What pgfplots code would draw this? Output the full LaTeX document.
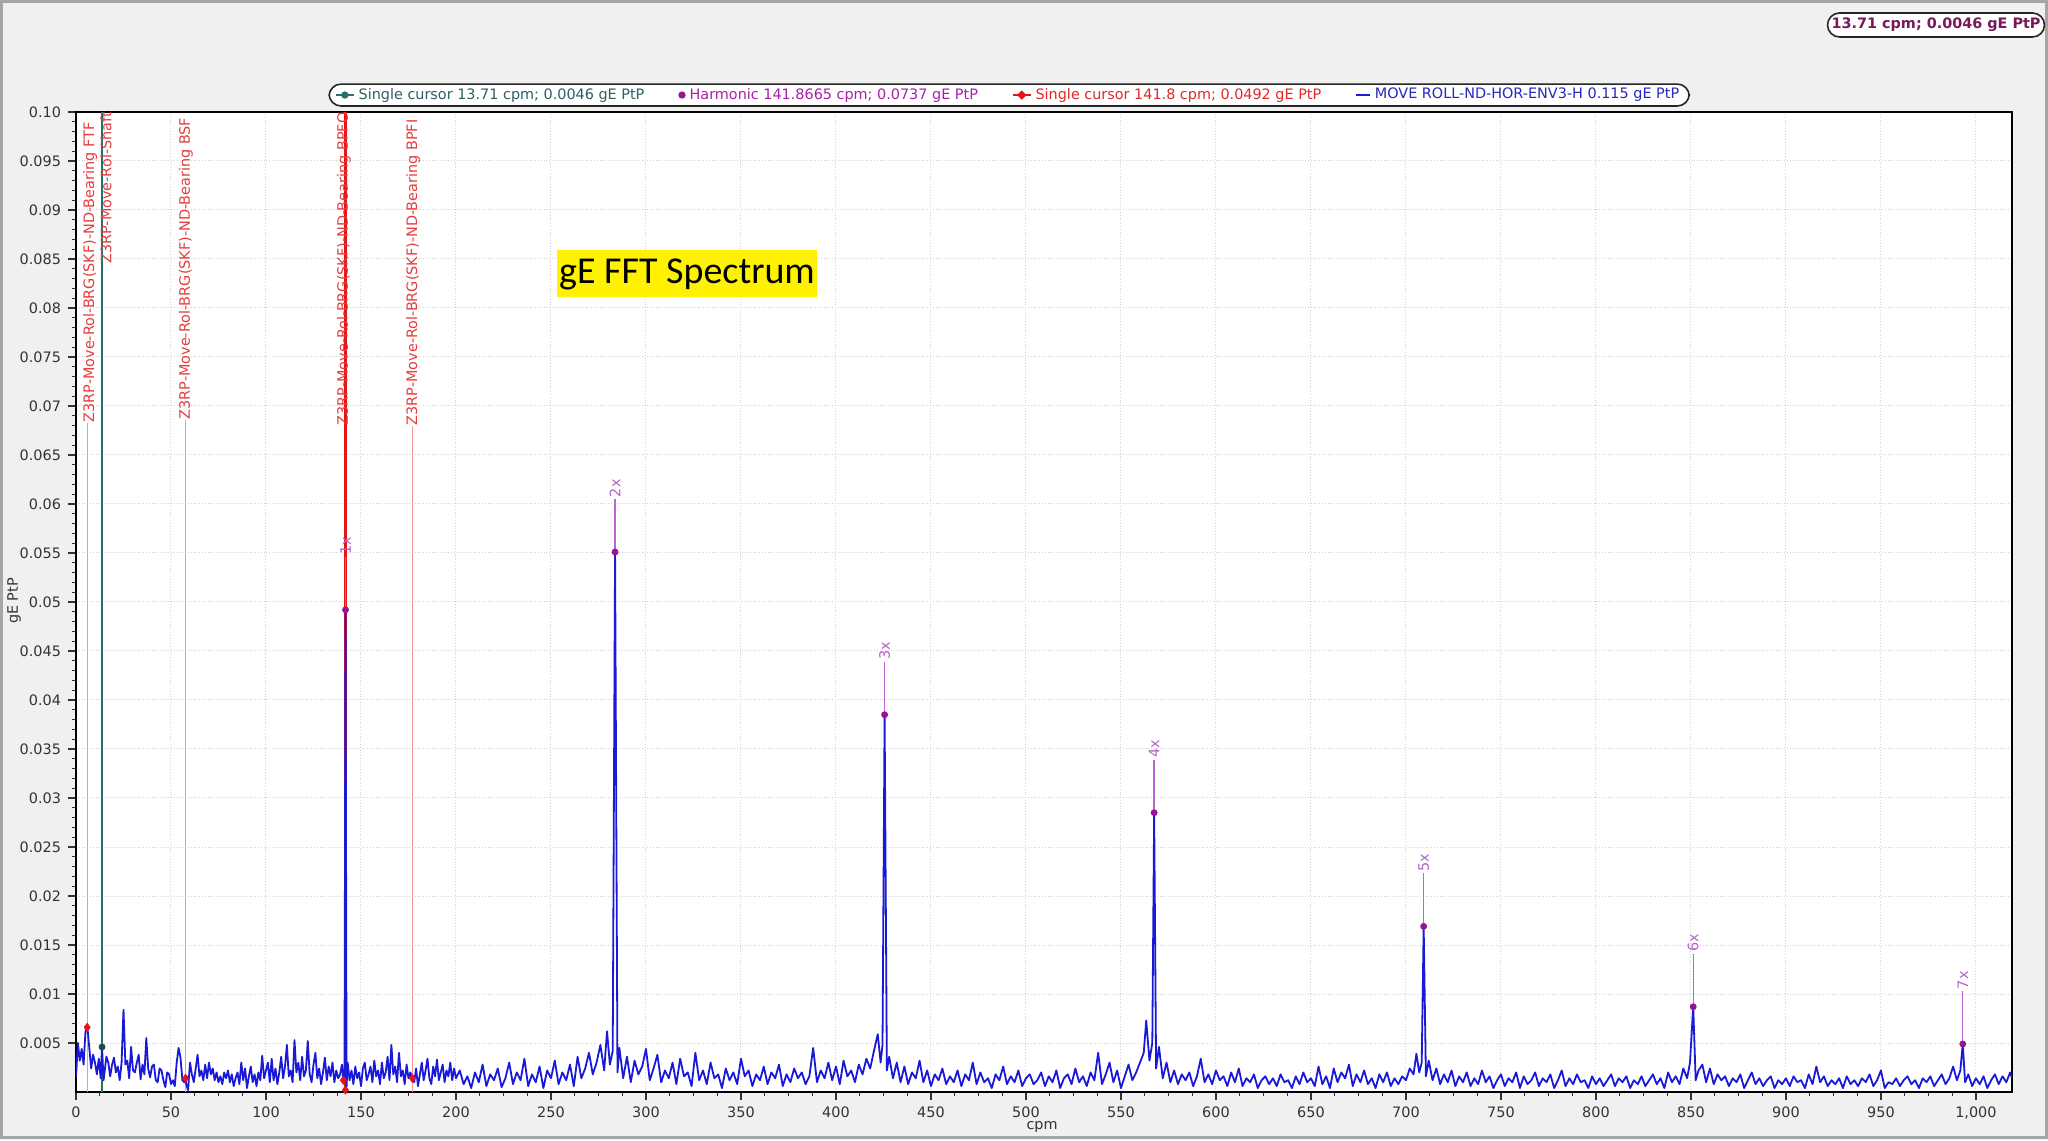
\documentclass[border=0pt]{standalone}
\usepackage{pgfplots}
\pgfplotsset{compat=1.18}
\usepackage{fontspec}
\setmainfont{DejaVu Sans}
\newfontfamily\carlito{Carlito}

\definecolor{specblue}{RGB}{25,25,215}
\definecolor{shaftteal}{RGB}{40,110,110}
\definecolor{harmdot}{RGB}{150,20,150}
\definecolor{harmline}{RGB}{190,100,210}
\definecolor{harmtext}{RGB}{180,100,200}
\definecolor{cursorred}{RGB}{230,20,20}
\definecolor{faultline}{RGB}{245,150,150}
\definecolor{faulttext}{RGB}{230,60,60}
\definecolor{legteal}{RGB}{45,95,100}
\definecolor{legpurple}{RGB}{170,30,170}
\definecolor{legred}{RGB}{225,40,40}
\definecolor{legblue}{RGB}{40,40,190}
\definecolor{plum}{RGB}{120,25,90}

\newcommand{\sz}{\fontsize{7.2}{8.5}\selectfont}

\begin{document}
\begin{tikzpicture}
% window background, 1px = 0.5pt
\fill[gray!12] (0,0) rectangle (1024pt,570pt);
\draw[gray!70, line width=1.5pt] (0.75pt,1.5pt) rectangle (1023.25pt,569.25pt);

\begin{axis}[
    at={(38pt,24pt)}, anchor=south west,
    scale only axis, width=968pt, height=490pt,
    xmin=0, xmax=1019, ymin=0, ymax=0.1,
    axis background/.style={fill=white},
    xtick={0,50,100,150,200,250,300,350,400,450,500,550,600,650,700,750,800,850,900,950,1000},
    xticklabels={0,50,100,150,200,250,300,350,400,450,500,550,600,650,700,750,800,850,900,950,{1,000}},
    ytick={0.005,0.01,0.015,0.02,0.025,0.03,0.035,0.04,0.045,0.05,0.055,0.06,0.065,0.07,0.075,0.08,0.085,0.09,0.095,0.1},
    yticklabels={0.005,0.01,0.015,0.02,0.025,0.03,0.035,0.04,0.045,0.05,0.055,0.06,0.065,0.07,0.075,0.08,0.085,0.09,0.095,0.10},
    minor x tick num=3, minor y tick num=4,
    tick align=outside, tick pos=left,
    major tick length=4pt, minor tick length=2pt,
    tick style={black!80, line width=0.6pt},
    grid=major, major grid style={densely dotted, gray!35, line width=0.5pt},
    axis line style={black, line width=1pt},
    ticklabel style={font=\sz, text=black!80},
    /pgf/number format/assume math mode=true,
    xlabel={cpm}, ylabel={gE PtP},
    xlabel style={font=\sz, text=black!80, at={(axis description cs:0.499,-0.0357)}, anchor=center},
    ylabel style={font=\sz, text=black!80, at={(axis description cs:-0.032,0.501)}, anchor=center},
    legend columns=4,
    legend style={at={(axis description cs:0.482,1.0173)}, anchor=center,
        draw=black!85, line width=0.8pt, rounded corners=6pt, fill=white,
        inner xsep=3pt, inner ysep=0pt, font=\sz,
        /tikz/every even column/.append style={column sep=15pt}},
    legend cell align=left,
]

% legend entries
\addlegendimage{legend image code/.code={
    \draw[sharp corners, shaftteal, line width=0.8pt] (0pt,0pt) -- (9pt,0pt);
    \fill[sharp corners, shaftteal] (4.5pt,0pt) circle (1.4pt);}}
\addlegendentry{\textcolor{legteal}{Single cursor 13.71 cpm; 0.0046 gE PtP}}
\addlegendimage{legend image code/.code={
    \fill[sharp corners, harmdot] (2pt,0pt) circle (1.4pt);}}
\addlegendentry{\textcolor{legpurple}{Harmonic 141.8665 cpm; 0.0737 gE PtP}}
\addlegendimage{legend image code/.code={
    \draw[sharp corners, cursorred, line width=0.8pt] (0pt,0pt) -- (9pt,0pt);
    \fill[sharp corners, cursorred] (4.5pt,1.8pt) -- (6.3pt,0pt) -- (4.5pt,-1.8pt) -- (2.7pt,0pt) -- cycle;}}
\addlegendentry{\textcolor{legred}{Single cursor 141.8 cpm; 0.0492 gE PtP}}
\addlegendimage{legend image code/.code={
    \draw[sharp corners, specblue, line width=0.8pt] (1pt,0pt) -- (8pt,0pt);}}
\addlegendentry{\textcolor{legblue}{MOVE ROLL-ND-HOR-ENV3-H 0.115 gE PtP}}

% bearing fault frequency lines
\addplot[forget plot, faultline, line width=0.5pt] coordinates {(5.9,0)(5.9,0.0683)};
\addplot[forget plot, faultline, line width=0.5pt] coordinates {(57.7,0)(57.7,0.0686)};
\addplot[forget plot, faultline, line width=0.5pt] coordinates {(177.0,0)(177.0,0.0680)};

% red single cursor
\addplot[forget plot, cursorred, line width=1.1pt] coordinates {(141.8,0)(141.8,0.1)};
% shaft cursor
\addplot[forget plot, shaftteal, line width=0.8pt] coordinates {(13.71,0)(13.71,0.1)};

% spectrum
\addplot[forget plot, specblue, line width=0.9pt, line join=round] coordinates {
(0,0.0015)(1,0.0050)(2,0.0032)(3,0.0044)(4,0.0028)(5,0.0062)(6,0.0066)(7,0.0045)(8,0.0024)(9,0.0038)
(10,0.0030)(11,0.0018)(12,0.0034)(13,0.0014)(13.7,0.0046)(14.5,0.0012)(15,0.0020)(16,0.0036)(17,0.0030)(18,0.0016)
(19,0.0028)(20,0.0035)(21,0.0020)(22,0.0026)(23,0.0012)(24,0.0030)(25,0.0084)(26,0.0028)(27,0.0032)(28,0.0014)
(29,0.0046)(30,0.0022)(31,0.0020)(32,0.0030)(33,0.0038)(34,0.0013)(35,0.0028)(36,0.0018)(37,0.0055)(38,0.0024)
(39,0.0015)(40,0.0026)(41,0.0028)(42,0.0012)(43,0.0010)(44,0.0024)(45,0.0022)(46,0.0012)(47,0.0005)(48,0.0020)
(49,0.0018)(50,0.0008)(51,0.0012)(52,0.0006)(53,0.0030)(54,0.0045)(55,0.0035)(56,0.0012)(57,0.0010)(57.7,0.0014)
(58,0.0008)(59,0.0002)(60,0.0030)(61,0.0018)(62,0.0010)(63,0.0024)(64,0.0038)(65,0.0016)(66,0.0022)(67,0.0012)
(68,0.0028)(69,0.0014)(70,0.0030)(71,0.0018)(72,0.0024)(73,0.0012)(74,0.0020)(75,0.0010)(76,0.0016)(77,0.0008)
(78,0.0020)(79,0.0014)(80,0.0022)(81,0.0010)(82,0.0018)(83,0.0006)(84,0.0014)(85,0.0020)(86,0.0008)(87,0.0030)
(88,0.0012)(89,0.0024)(90,0.0004)(91,0.0016)(92,0.0026)(93,0.0010)(94,0.0018)(95,0.0006)(96,0.0020)(97,0.0012)
(98,0.0037)(99,0.0014)(100,0.0022)(101,0.0030)(102,0.0010)(103,0.0034)(104,0.0012)(105,0.0024)(106,0.0008)(107,0.0020)
(108,0.0036)(109,0.0014)(110,0.0026)(111,0.0048)(112,0.0016)(113,0.0022)(114,0.0010)(115,0.0053)(116,0.0020)(117,0.0030)
(118,0.0012)(119,0.0036)(120,0.0016)(121,0.0022)(122,0.0052)(123,0.0018)(124,0.0010)(125,0.0028)(126,0.0040)(127,0.0014)
(128,0.0024)(129,0.0008)(130,0.0020)(131,0.0035)(132,0.0012)(133,0.0026)(134,0.0016)(135,0.0030)(136,0.0010)(137,0.0022)
(138,0.0014)(139,0.0018)(140,0.0028)(140.7,0.0012)(141.3,0.0010)(141.87,0.0492)(142.4,0.0005)(143,0.0030)(144,0.0012)(145,0.0022)
(146,0.0008)(147,0.0026)(148,0.0014)(149,0.0020)(150,0.0006)(151,0.0024)(152,0.0030)(153,0.0012)(154,0.0018)(155,0.0026)
(156,0.0010)(157,0.0032)(158,0.0016)(159,0.0022)(160,0.0008)(161,0.0030)(162,0.0014)(163,0.0020)(164,0.0036)(165,0.0012)
(166,0.0048)(167,0.0018)(168,0.0026)(169,0.0010)(170,0.0040)(171,0.0016)(172,0.0022)(173,0.0008)(174,0.0028)(175,0.0014)
(176,0.0020)(177,0.0014)(178,0.0010)(179,0.0024)(180,0.0006)(181,0.0018)(182,0.0030)(183,0.0012)(184,0.0022)(185,0.0034)
(186,0.0014)(187,0.0008)(188,0.0026)(189,0.0016)(190,0.0033)(191,0.0012)(192,0.0020)(193,0.0028)(194,0.0010)(195,0.0022)
(196,0.0016)(197,0.0030)(198,0.0012)(199,0.0024)(200,0.0014)
(202,0.0022)(204,0.0008)(206,0.0016)(208,0.0004)(210,0.0020)(212,0.0010)(214,0.0028)(216,0.0006)(218,0.0018)(220,0.0012)
(222,0.0024)(224,0.0005)(226,0.0014)(228,0.0030)(230,0.0008)(232,0.0020)(234,0.0012)(236,0.0034)(238,0.0006)(240,0.0018)
(242,0.0010)(244,0.0026)(246,0.0004)(248,0.0022)(250,0.0014)(252,0.0032)(254,0.0008)(256,0.0020)(258,0.0012)(260,0.0028)
(262,0.0006)(264,0.0036)(266,0.0014)(268,0.0024)(270,0.0040)(272,0.0018)(274,0.0030)(276,0.0048)(278,0.0022)(279.5,0.0062)
(281,0.0028)(282.5,0.0042)(283.73,0.0551)(285,0.0020)(286,0.0045)(288,0.0014)(290,0.0036)(292,0.0010)(294,0.0032)(296,0.0018)
(298,0.0026)(300,0.0044)(302,0.0012)(304,0.0024)(306,0.0038)(308,0.0010)(310,0.0022)(312,0.0014)(314,0.0030)(316,0.0008)
(318,0.0034)(320,0.0016)(322,0.0020)(324,0.0006)(326,0.0040)(328,0.0012)(330,0.0022)(332,0.0008)(334,0.0030)(336,0.0014)
(338,0.0018)(340,0.0004)(342,0.0024)(344,0.0012)(346,0.0020)(348,0.0008)(350,0.0034)(352,0.0016)(354,0.0022)(356,0.0006)
(358,0.0018)(360,0.0012)(362,0.0026)(364,0.0008)(366,0.0020)(368,0.0014)(370,0.0028)(372,0.0006)(374,0.0018)(376,0.0010)
(378,0.0024)(380,0.0014)(382,0.0020)(384,0.0008)(386,0.0016)(388,0.0045)(390,0.0010)(392,0.0022)(394,0.0014)(396,0.0030)
(398,0.0012)(400,0.0026)(402,0.0008)(404,0.0032)(406,0.0016)(408,0.0022)(410,0.0010)(412,0.0028)(414,0.0018)(416,0.0034)
(418,0.0024)(420,0.0042)(422,0.0059)(423.5,0.0030)(424.5,0.0048)(425.6,0.0385)(426.8,0.0022)(428,0.0036)(430,0.0014)(432,0.0030)
(434,0.0010)(436,0.0026)(438,0.0008)(440,0.0020)(442,0.0014)(444,0.0032)(446,0.0010)(448,0.0022)(450,0.0006)(452,0.0018)
(454,0.0012)(456,0.0024)(458,0.0008)(460,0.0016)(462,0.0010)(464,0.0022)(466,0.0006)(468,0.0018)(470,0.0012)(472,0.0030)
(474,0.0008)(476,0.0020)(478,0.0010)(480,0.0014)(482,0.0004)(484,0.0018)(486,0.0012)(488,0.0026)(490,0.0008)(492,0.0016)
(494,0.0010)(496,0.0022)(498,0.0006)(500,0.0014)(502,0.0018)(504,0.0008)(506,0.0012)(508,0.0020)(510,0.0006)(512,0.0016)
(514,0.0010)(516,0.0022)(518,0.0004)(520,0.0014)(522,0.0018)(524,0.0008)(526,0.0024)(528,0.0010)(530,0.0016)(532,0.0006)
(534,0.0020)(536,0.0012)(538,0.0040)(540,0.0008)(542,0.0018)(544,0.0030)(546,0.0010)(548,0.0022)(550,0.0004)(552,0.0016)
(554,0.0028)(556,0.0012)(558,0.0020)(560,0.0030)(562,0.0040)(563.3,0.0073)(565,0.0032)(566.5,0.0050)(567.47,0.0285)(568.5,0.0024)
(570,0.0046)(572,0.0014)(574,0.0030)(576,0.0010)(578,0.0022)(580,0.0008)(582,0.0018)(584,0.0012)(586,0.0020)(588,0.0006)
(590,0.0016)(592,0.0034)(594,0.0010)(596,0.0018)(598,0.0008)(600,0.0022)(602,0.0012)(604,0.0016)(606,0.0006)(608,0.0020)
(610,0.0010)(612,0.0024)(614,0.0006)(616,0.0014)(618,0.0010)(620,0.0018)(622,0.0004)(624,0.0012)(626,0.0016)(628,0.0008)
(630,0.0014)(632,0.0006)(634,0.0018)(636,0.0010)(638,0.0012)(640,0.0004)(642,0.0016)(644,0.0008)(646,0.0020)(648,0.0010)
(650,0.0014)(652,0.0006)(654,0.0026)(656,0.0008)(658,0.0016)(660,0.0004)(662,0.0024)(664,0.0010)(666,0.0020)(668,0.0014)
(670,0.0028)(672,0.0006)(674,0.0018)(676,0.0010)(678,0.0022)(680,0.0008)(682,0.0014)(684,0.0004)(686,0.0018)(688,0.0010)
(690,0.0020)(692,0.0006)(694,0.0014)(696,0.0008)(698,0.0016)(700,0.0012)(702,0.0024)(704,0.0018)(705.5,0.0039)(707,0.0020)
(708.3,0.0030)(709.33,0.0169)(710.5,0.0016)(712,0.0032)(714,0.0012)(716,0.0024)(718,0.0008)(720,0.0018)(722,0.0010)(724,0.0022)
(726,0.0006)(728,0.0016)(730,0.0010)(732,0.0020)(734,0.0006)(736,0.0014)(738,0.0008)(740,0.0022)(742,0.0010)(744,0.0016)
(746,0.0004)(748,0.0012)(750,0.0018)(752,0.0006)(754,0.0014)(756,0.0010)(758,0.0020)(760,0.0004)(762,0.0016)(764,0.0008)
(766,0.0012)(768,0.0020)(770,0.0006)(772,0.0014)(774,0.0010)(776,0.0018)(778,0.0004)(780,0.0012)(782,0.0022)(784,0.0006)
(786,0.0014)(788,0.0008)(790,0.0018)(792,0.0010)(794,0.0012)(796,0.0004)(798,0.0016)(800,0.0008)(802,0.0014)(804,0.0006)
(806,0.0012)(808,0.0018)(810,0.0006)(812,0.0014)(814,0.0010)(816,0.0016)(818,0.0004)(820,0.0012)(822,0.0008)(824,0.0016)
(826,0.0006)(828,0.0012)(830,0.0018)(832,0.0008)(834,0.0014)(836,0.0004)(838,0.0020)(840,0.0010)(842,0.0016)(844,0.0008)
(846,0.0024)(848,0.0014)(849.5,0.0030)(851.2,0.0087)(852.5,0.0012)(854,0.0022)(856,0.0028)(858,0.0010)(860,0.0024)(862,0.0008)
(864,0.0018)(866,0.0012)(868,0.0016)(870,0.0006)(872,0.0014)(874,0.0010)(876,0.0018)(878,0.0004)(880,0.0012)(882,0.0020)
(884,0.0008)(886,0.0014)(888,0.0006)(890,0.0012)(892,0.0016)(894,0.0004)(896,0.0012)(898,0.0008)(900,0.0014)(902,0.0006)
(904,0.0016)(906,0.0010)(908,0.0012)(910,0.0004)(912,0.0018)(914,0.0008)(916,0.0026)(918,0.0010)(920,0.0016)(922,0.0006)
(924,0.0012)(926,0.0008)(928,0.0014)(930,0.0004)(932,0.0016)(934,0.0008)(936,0.0012)(938,0.0006)(940,0.0014)(942,0.0010)
(944,0.0018)(946,0.0006)(948,0.0012)(950,0.0022)(952,0.0004)(954,0.0010)(956,0.0008)(958,0.0014)(960,0.0006)(962,0.0012)
(964,0.0016)(966,0.0008)(968,0.0012)(970,0.0004)(972,0.0014)(974,0.0010)(976,0.0016)(978,0.0006)(980,0.0012)(982,0.0018)
(984,0.0008)(986,0.0014)(988,0.0026)(990,0.0012)(991.8,0.0022)(993.07,0.0049)(994.3,0.0010)(996,0.0018)(998,0.0006)(1000,0.0014)
(1002,0.0008)(1004,0.0016)(1006,0.0004)(1008,0.0012)(1010,0.0018)(1012,0.0008)(1014,0.0016)(1016,0.0010)(1018,0.0020)(1019,0.0014)
};

% harmonic cursor stems
\addplot[forget plot, harmline, line width=0.7pt] coordinates {(141.87,0.0492)(141.87,0.0546)};
\addplot[forget plot, harmline, line width=0.7pt] coordinates {(283.73,0.0551)(283.73,0.0605)};
\addplot[forget plot, harmline, line width=0.7pt] coordinates {(425.60,0.0385)(425.60,0.0439)};
\addplot[forget plot, harmline, line width=0.7pt] coordinates {(567.47,0.0285)(567.47,0.0339)};
\addplot[forget plot, harmline, line width=0.7pt] coordinates {(709.33,0.0169)(709.33,0.0223)};
\addplot[forget plot, harmline, line width=0.7pt] coordinates {(851.20,0.0087)(851.20,0.0141)};
\addplot[forget plot, harmline, line width=0.7pt] coordinates {(993.07,0.0049)(993.07,0.0103)};

% harmonic markers
\addplot[forget plot, only marks, mark=*, mark size=1.5pt, harmdot] coordinates {
(141.87,0.0492)(283.73,0.0551)(425.60,0.0385)(567.47,0.0285)(709.33,0.0169)(851.20,0.0087)(993.07,0.0049)};
% fault frequency markers
\addplot[forget plot, only marks, mark=diamond*, mark size=2pt, cursorred] coordinates {
(5.9,0.0066)(57.7,0.0014)(140.7,0.0012)(141.8,0.0002)(177.0,0.0014)};
% shaft cursor marker
\addplot[forget plot, only marks, mark=*, mark size=1.5pt, shaftteal!70!black] coordinates {(13.71,0.0046)};

% harmonic labels
\foreach \hx/\hy/\hl in {141.87/0.0546/1x, 283.73/0.0605/2x, 425.60/0.0439/3x, 567.47/0.0339/4x, 709.33/0.0223/5x, 851.20/0.0141/6x, 993.07/0.0103/7x}{
  \edef\tmp{\noexpand\node[rotate=90, anchor=west, inner sep=0.8pt, text=harmtext, font=\noexpand\sz] at (axis cs:\hx,\hy) {\hl};}
  \tmp
}

% fault frequency labels
\node[rotate=90, anchor=west, inner sep=0pt, text=faulttext, font=\sz] at (axis cs:7.4,0.0683) {Z3RP-Move-Rol-BRG(SKF)-ND-Bearing FTF};
\node[rotate=90, anchor=west, inner sep=0pt, text=faulttext, font=\sz] at (axis cs:15.8,0.0845) {Z3RP-Move-Rol-Shaft};
\node[rotate=90, anchor=west, inner sep=0pt, text=faulttext, font=\sz] at (axis cs:57.9,0.0686) {Z3RP-Move-Rol-BRG(SKF)-ND-Bearing BSF};
\node[rotate=90, anchor=west, inner sep=0pt, text=faulttext, font=\sz] at (axis cs:141.0,0.0680) {Z3RP-Move-Rol-BRG(SKF)-ND-Bearing BPFO};
\node[rotate=90, anchor=west, inner sep=0pt, text=faulttext, font=\sz] at (axis cs:177.4,0.0680) {Z3RP-Move-Rol-BRG(SKF)-ND-Bearing BPFI};
\end{axis}

% title box
\node[fill=yellow, text=black, font=\carlito\fontsize{19}{22}\selectfont, inner xsep=1pt, inner ysep=0pt, minimum height=23.5pt] at (343.5pt,433pt) {gE FFT Spectrum};
% readout box
\node[draw=black!85, line width=0.8pt, rounded corners=6pt, fill=white, text=plum, font=\bfseries\sz, inner xsep=2pt, inner ysep=0pt, minimum height=12pt] at (968pt,557.5pt) {13.71 cpm; 0.0046 gE PtP};
\end{tikzpicture}
\end{document}
